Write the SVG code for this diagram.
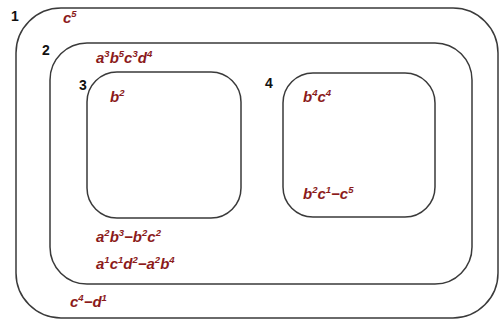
<svg xmlns="http://www.w3.org/2000/svg" width="499" height="320" viewBox="0 0 499 320">
<style>
.r{fill:none;stroke:#3a3a3a;stroke-width:1.5}
.n{font-family:"Liberation Sans",Arial,sans-serif;font-weight:bold;font-size:14px;fill:#111}
.t{font-family:"Liberation Sans",Arial,sans-serif;font-weight:bold;font-style:italic;font-size:15px;fill:#8b1a1a}
.s{font-size:9.5px}
</style>
<rect width="499" height="320" fill="#fff"/>
<g id="region1">
<rect class="r" x="16" y="8" width="482" height="310" rx="45" ry="45"/>
<text class="n" x="11" y="21">1</text>
<text class="t" x="63" y="23">c<tspan class="s" dy="-6">5</tspan></text>
<text class="t" x="70" y="307">c<tspan class="s" dy="-6">4</tspan><tspan dy="6">−d</tspan><tspan class="s" dy="-6">1</tspan></text>
</g>
<g id="region2">
<rect class="r" x="50" y="43" width="422" height="241" rx="37" ry="37"/>
<text class="n" x="42" y="55">2</text>
<text class="t" x="96" y="63">a<tspan class="s" dy="-6">3</tspan><tspan dy="6">b</tspan><tspan class="s" dy="-6">5</tspan><tspan dy="6">c</tspan><tspan class="s" dy="-6">3</tspan><tspan dy="6">d</tspan><tspan class="s" dy="-6">4</tspan></text>
<text class="t" x="96" y="242">a<tspan class="s" dy="-6">2</tspan><tspan dy="6">b</tspan><tspan class="s" dy="-6">3</tspan><tspan dy="6">−b</tspan><tspan class="s" dy="-6">2</tspan><tspan dy="6">c</tspan><tspan class="s" dy="-6">2</tspan></text>
<text class="t" x="96" y="269">a<tspan class="s" dy="-6">1</tspan><tspan dy="6">c</tspan><tspan class="s" dy="-6">1</tspan><tspan dy="6">d</tspan><tspan class="s" dy="-6">2</tspan><tspan dy="6">−a</tspan><tspan class="s" dy="-6">2</tspan><tspan dy="6">b</tspan><tspan class="s" dy="-6">4</tspan></text>
</g>
<g id="region3">
<rect class="r" x="87" y="72" width="154" height="146" rx="30" ry="30"/>
<text class="n" x="79" y="90">3</text>
<text class="t" x="110" y="102">b<tspan class="s" dy="-6">2</tspan></text>
</g>
<g id="region4">
<rect class="r" x="283" y="73" width="152" height="144" rx="30" ry="30"/>
<text class="n" x="265" y="88">4</text>
<text class="t" x="303" y="102">b<tspan class="s" dy="-6">4</tspan><tspan dy="6">c</tspan><tspan class="s" dy="-6">4</tspan></text>
<text class="t" x="303" y="199">b<tspan class="s" dy="-6">2</tspan><tspan dy="6">c</tspan><tspan class="s" dy="-6">1</tspan><tspan dy="6">−c</tspan><tspan class="s" dy="-6">5</tspan></text>
</g>
<g id="connectors"></g>
</svg>
